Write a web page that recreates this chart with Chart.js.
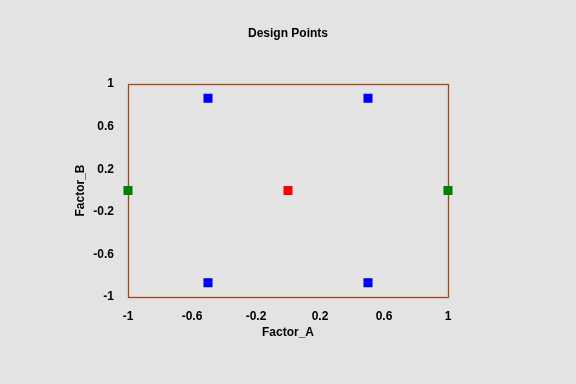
<!DOCTYPE html>
<html>
<head>
<meta charset="utf-8">
<script src="https://cdn.jsdelivr.net/npm/chart.js@4"></script>
<style>
html,body{margin:0;padding:0;background:#e3e3e3;}
canvas{display:block;}
</style>
</head>
<body>
<canvas id="c" width="576" height="384"></canvas>
<script>
const chartTitle = "Design Points";
const xTitle = "Factor_A";
const yTitle = "Factor_B";
const tickValues = [-1, -0.6, -0.2, 0.2, 0.6, 1];

const blueX = [-0.5, 0.5, -0.5, 0.5];
const blueY = [0.866, 0.866, -0.866, -0.866];
const greenX = [-1, 1];
const greenY = [0, 0];
const redX = [0];
const redY = [0];

const toPts = (xs, ys) => xs.map((x, i) => ({x: x, y: ys[i]}));

const FONT = "'Liberation Sans', Arial, sans-serif";

const framePlugin = {
  id: 'frame',
  beforeDraw(chart) {
    const ctx = chart.ctx;
    ctx.save();
    ctx.fillStyle = '#e3e3e3';
    ctx.fillRect(0, 0, chart.width, chart.height);
    ctx.restore();
  },
  beforeDatasetsDraw(chart) {
    const a = chart.chartArea;
    const ctx = chart.ctx;
    ctx.save();
    ctx.strokeStyle = '#a04a14';
    ctx.lineWidth = 1.3;
    ctx.strokeRect(Math.round(a.left) + 0.5, Math.round(a.top) + 0.5,
                   Math.round(a.right - a.left), Math.round(a.bottom - a.top));
    ctx.restore();
  }
};

function setTicks(scale) {
  scale.ticks = tickValues.map(v => ({value: v}));
}
function fmt(v) {
  return String(Math.round(v * 10) / 10);
}

const ds = (data, color) => ({
  data: data,
  pointStyle: 'rect',
  pointRadius: 6.4,
  pointHoverRadius: 6.4,
  pointBackgroundColor: color,
  pointBorderWidth: 0,
  borderWidth: 0,
  showLine: false,
  clip: false
});

new Chart(document.getElementById('c'), {
  type: 'scatter',
  data: {
    datasets: [
      ds(toPts(blueX, blueY), '#0000ff'),
      ds(toPts(greenX, greenY), '#008000'),
      ds(toPts(redX, redY), '#ff0000')
    ]
  },
  options: {
    responsive: false,
    animation: false,
    layout: {padding: {left: 0, right: 0, top: 0, bottom: 44}},
    plugins: {
      legend: {display: false},
      tooltip: {enabled: false},
      title: {
        display: true,
        text: chartTitle,
        color: '#000',
        font: {family: FONT, size: 12, weight: 'bold'},
        padding: {top: 26, bottom: 43.6}
      }
    },
    scales: {
      x: {
        type: 'linear',
        min: -1, max: 1,
        afterBuildTicks: setTicks,
        afterFit(s) { s.height = 43; },
        grid: {display: false, drawTicks: false},
        border: {display: false},
        ticks: {
          color: '#000', padding: 12, maxRotation: 0,
          font: {family: FONT, size: 12, weight: 'bold'},
          callback: fmt
        },
        title: {
          display: true, text: xTitle, color: '#000',
          font: {family: FONT, size: 12, weight: 'bold'},
          padding: {top: 0, bottom: 0}
        }
      },
      y: {
        type: 'linear',
        min: -1, max: 1,
        afterBuildTicks: setTicks,
        afterFit(s) { s.width = 128; },
        grid: {display: false, drawTicks: false},
        border: {display: false},
        ticks: {
          color: '#000', padding: 14,
          font: {family: FONT, size: 12, weight: 'bold'},
          callback: fmt
        },
        title: {
          display: true, text: yTitle, color: '#000',
          font: {family: FONT, size: 12, weight: 'bold'},
          padding: {top: 73, bottom: 0}
        }
      },
      y2: {
        type: 'linear',
        position: 'right',
        display: true,
        min: -1, max: 1,
        afterFit(s) { s.width = 128; },
        grid: {display: false, drawTicks: false},
        border: {display: false},
        ticks: {display: false}
      }
    }
  },
  plugins: [framePlugin]
});
</script>
</body>
</html>
